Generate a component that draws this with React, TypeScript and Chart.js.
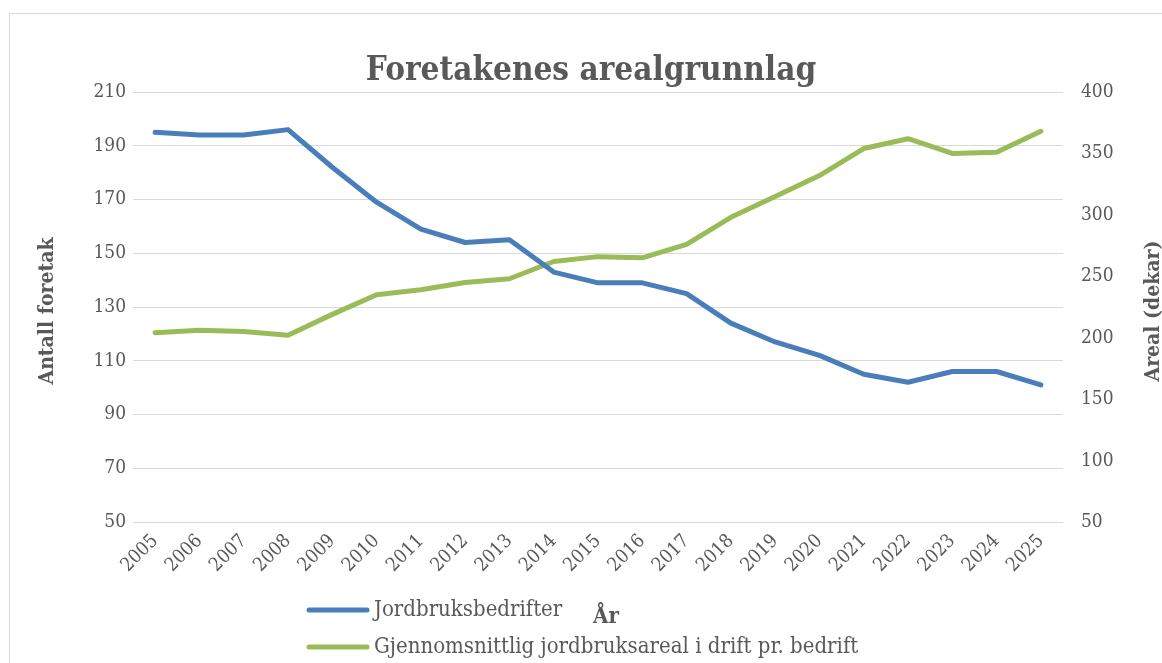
import React, { useEffect, useRef } from "react";
import { Chart, registerables } from "chart.js";

Chart.register(...registerables);

const years: string[] = [
  "2005", "2006", "2007", "2008", "2009", "2010", "2011", "2012", "2013", "2014",
  "2015", "2016", "2017", "2018", "2019", "2020", "2021", "2022", "2023", "2024", "2025",
];

const jordbruksbedrifter: number[] = [
  195, 194, 194, 196, 182, 169, 159, 154, 155, 143,
  139, 139, 135, 124, 117, 112, 105, 102, 106, 106, 101,
];

const gjennomsnittAreal: number[] = [
  204, 206, 205, 202, 219, 235, 239, 245, 248, 262,
  266, 265, 276, 298, 315, 332, 354, 362, 350, 351, 368,
];

const titleText = "Foretakenes arealgrunnlag";
const leftAxisTitle = "Antall foretak";
const rightAxisTitle = "Areal (dekar)";
const xAxisTitle = "År";
const seriesNames: string[] = ["Jordbruksbedrifter", "Gjennomsnittlig jordbruksareal i drift pr. bedrift"];

const BLUE = "#4a7ebb";
const GREEN = "#9bbb59";
const TEXT = "#595959";
const GRID = "#d9d9d9";
const FONT = '"DejaVu Serif Condensed", "DejaVu Serif", serif';

const W = 1152;
const H = 649;
const AREA_LEFT = 123;
const AREA_RIGHT = 1053;
const AREA_TOP = 78;
const AREA_BOTTOM = 508;

const decorPlugin = {
  id: "decor",
  afterDraw(chart: any) {
    const ctx = chart.ctx as CanvasRenderingContext2D;
    ctx.save();
    // Title
    ctx.fillStyle = TEXT;
    ctx.font = `bold 33px ${FONT}`;
    ctx.textAlign = "center";
    ctx.textBaseline = "alphabetic";
    ctx.fillText(titleText, 581, 66);

    // Right axis title (rotated -90)
    ctx.save();
    ctx.translate(1144, (AREA_TOP + AREA_BOTTOM) / 2 + 4);
    ctx.rotate(-Math.PI / 2);
    ctx.font = `bold 21px ${FONT}`;
    ctx.textAlign = "center";
    ctx.textBaseline = "middle";
    ctx.fillText(rightAxisTitle, 0, 0);
    ctx.restore();

    // Left axis title (rotated -90)
    ctx.save();
    ctx.translate(38, (AREA_TOP + AREA_BOTTOM) / 2 + 4);
    ctx.rotate(-Math.PI / 2);
    ctx.font = `bold 21px ${FONT}`;
    ctx.textAlign = "center";
    ctx.textBaseline = "middle";
    ctx.fillText(leftAxisTitle, 0, 0);
    ctx.restore();

    // X axis title
    ctx.font = `bold 22px ${FONT}`;
    ctx.textAlign = "center";
    ctx.textBaseline = "alphabetic";
    ctx.fillText(xAxisTitle, 596, 609);

    // Legend
    const colors = [BLUE, GREEN];
    const rows = [596, 633];
    ctx.font = `22px ${FONT}`;
    ctx.textAlign = "left";
    ctx.textBaseline = "middle";
    for (let i = 0; i < seriesNames.length; i++) {
      ctx.strokeStyle = colors[i];
      ctx.lineWidth = 5;
      ctx.lineCap = "round";
      ctx.beginPath();
      ctx.moveTo(299, rows[i]);
      ctx.lineTo(357, rows[i]);
      ctx.stroke();
      ctx.fillStyle = TEXT;
      ctx.fillText(seriesNames[i], 364, rows[i]);
    }
    ctx.restore();
  },
};

export default function App() {
  const ref = useRef<HTMLCanvasElement | null>(null);

  useEffect(() => {
    document.documentElement.style.overflow = "hidden";
    document.body.style.overflow = "hidden";
    if (!ref.current) return;
    const chart = new Chart(ref.current, {
      type: "line",
      data: {
        labels: years,
        datasets: [
          {
            label: seriesNames[0],
            data: jordbruksbedrifter,
            borderColor: BLUE,
            backgroundColor: BLUE,
            borderWidth: 5,
            pointRadius: 0,
            tension: 0,
            borderCapStyle: "round",
            borderJoinStyle: "round",
            yAxisID: "y",
          },
          {
            label: seriesNames[1],
            data: gjennomsnittAreal,
            borderColor: GREEN,
            backgroundColor: GREEN,
            borderWidth: 5,
            pointRadius: 0,
            tension: 0,
            borderCapStyle: "round",
            borderJoinStyle: "round",
            yAxisID: "y1",
          },
        ],
      },
      options: {
        animation: false,
        responsive: true,
        maintainAspectRatio: false,
        layout: { padding: { top: AREA_TOP, left: 0, right: 0, bottom: 0 } },
        plugins: {
          legend: { display: false },
          title: { display: false },
          tooltip: { enabled: false },
        },
        scales: {
          x: {
            offset: true,
            grid: { display: false, drawTicks: false },
            border: { display: false },
            ticks: {
              autoSkip: false,
              minRotation: 45,
              maxRotation: 45,
              padding: 8,
              color: TEXT,
              font: { family: FONT, size: 19 },
            },
            afterFit: (s: any) => {
              s.height = H - AREA_BOTTOM;
            },
          },
          y: {
            position: "left",
            min: 50,
            max: 210,
            grid: { color: GRID, lineWidth: 1, drawTicks: false },
            border: { display: false },
            ticks: {
              stepSize: 20,
              padding: 7,
              color: TEXT,
              font: { family: FONT, size: 19 },
            },
            afterFit: (s: any) => {
              s.width = AREA_LEFT;
            },
          },
          y1: {
            position: "right",
            min: 50,
            max: 400,
            grid: { drawOnChartArea: false, drawTicks: false },
            border: { display: false },
            ticks: {
              stepSize: 50,
              padding: 18,
              color: TEXT,
              font: { family: FONT, size: 19 },
            },
            afterFit: (s: any) => {
              s.width = W - AREA_RIGHT;
            },
          },
        },
      },
      plugins: [decorPlugin],
    } as any);
    return () => chart.destroy();
  }, []);

  return (
    <div
      style={{
        position: "absolute",
        left: 9,
        top: 13,
        width: 1165,
        height: 660,
        border: "1px solid #d9d9d9",
        boxSizing: "border-box",
        background: "#fff",
        overflow: "hidden",
      }}
    >
      <div style={{ position: "absolute", left: 0, top: 0, width: W, height: H }}>
        <canvas ref={ref} />
      </div>
    </div>
  );
}
